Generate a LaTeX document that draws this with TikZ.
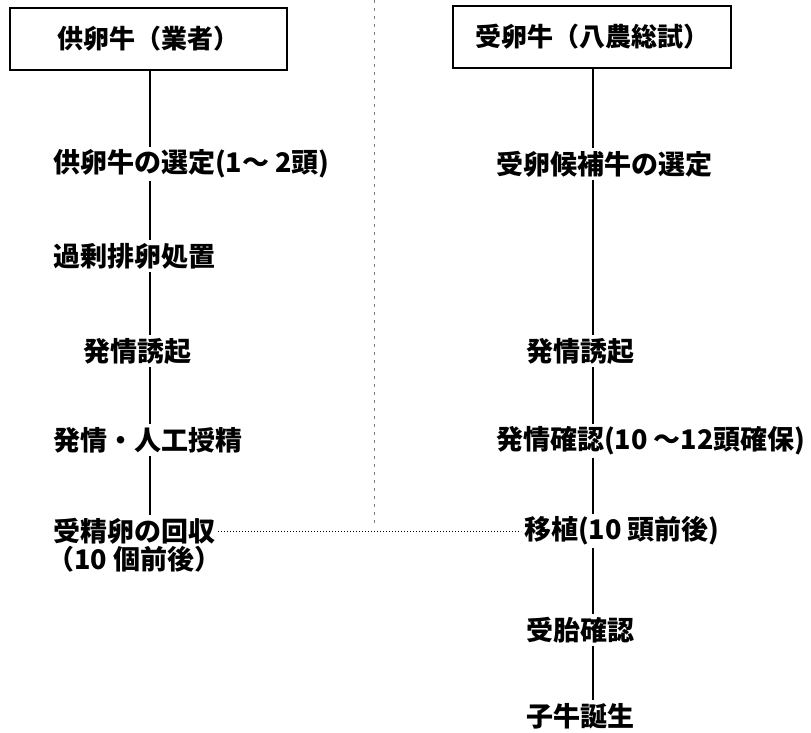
\documentclass[tikz,border=0pt]{standalone}
\usepackage{fontspec}
\newfontfamily\jpfont{Noto Sans CJK JP}
\begin{document}
\begin{tikzpicture}[x=1pt,y=-1pt,
  txt/.style={font=\jpfont\bfseries\fontsize{27}{31}\selectfont, inner sep=3pt, outer sep=0pt, text=black, anchor=west},
  hdr/.style={draw=black, line width=1.4pt, minimum height=62pt, inner sep=0pt, font=\jpfont\bfseries\fontsize{26}{30}\selectfont},
  flow/.style={line width=2.2pt, black},
  link/.style={line width=1pt, dotted, black},
  divider/.style={line width=0.8pt, gray, dash pattern=on 3pt off 5pt}
]
\useasboundingbox (0,0) rectangle (811,733);
% headers
\node[hdr, minimum width=277pt] (lbox) at (148.5,39) {供卵牛（業者）};
\node[hdr, minimum width=278pt] (rbox) at (592,37) {受卵牛（八農総試）};
% divider
\coordinate (mtop) at (374,0);
\coordinate (mbot) at (374,527);
\draw[divider] (mtop) -- (mbot);
% left column
\coordinate (lx) at (150,0);
\node[txt] (l1) at (50,164) {供卵牛の選定(1～ 2頭)};
\node[txt] (l2) at (50,256) {過剰排卵処置};
\node[txt] (l3) at (80,351) {発情誘起};
\node[txt] (l4) at (50,440) {発情・人工授精};
\node[txt] (l5) at (50,531) {受精卵の回収};
\node[txt] (l6) at (44,559) {（10 個前後）};
% right column
\coordinate (rx) at (593,0);
\node[txt] (r1) at (493,164) {受卵候補牛の選定};
\node[txt] (r2) at (523,351) {発情誘起};
\node[txt] (r3) at (493,441) {発情確認(10 ～12頭確保)};
\node[txt] (r4) at (521,531) {移植(10 頭前後)};
\node[txt] (r5) at (523,630) {受胎確認};
\node[txt] (r6) at (523,716) {子牛誕生};
% flows
\draw[flow] (lx |- lbox.south) -- (lx |- l1.north);
\draw[flow] (lx |- l1.south) -- (lx |- l2.north);
\draw[flow] (lx |- l2.south) -- (lx |- l3.north);
\draw[flow] (lx |- l3.south) -- (lx |- l4.north);
\draw[flow] (lx |- l4.south) -- (lx |- l5.north);
\draw[flow] (rx |- rbox.south) -- (rx |- r1.north);
\draw[flow] (rx |- r1.south) -- (rx |- r2.north);
\draw[flow] (rx |- r2.south) -- (rx |- r3.north);
\draw[flow] (rx |- r3.south) -- (rx |- r4.north);
\draw[flow] (rx |- r4.south) -- (rx |- r5.north);
\draw[flow] (rx |- r5.south) -- (rx |- r6.north);
\draw[link] (l5.east) -- (r4.west);
\end{tikzpicture}
\end{document}
